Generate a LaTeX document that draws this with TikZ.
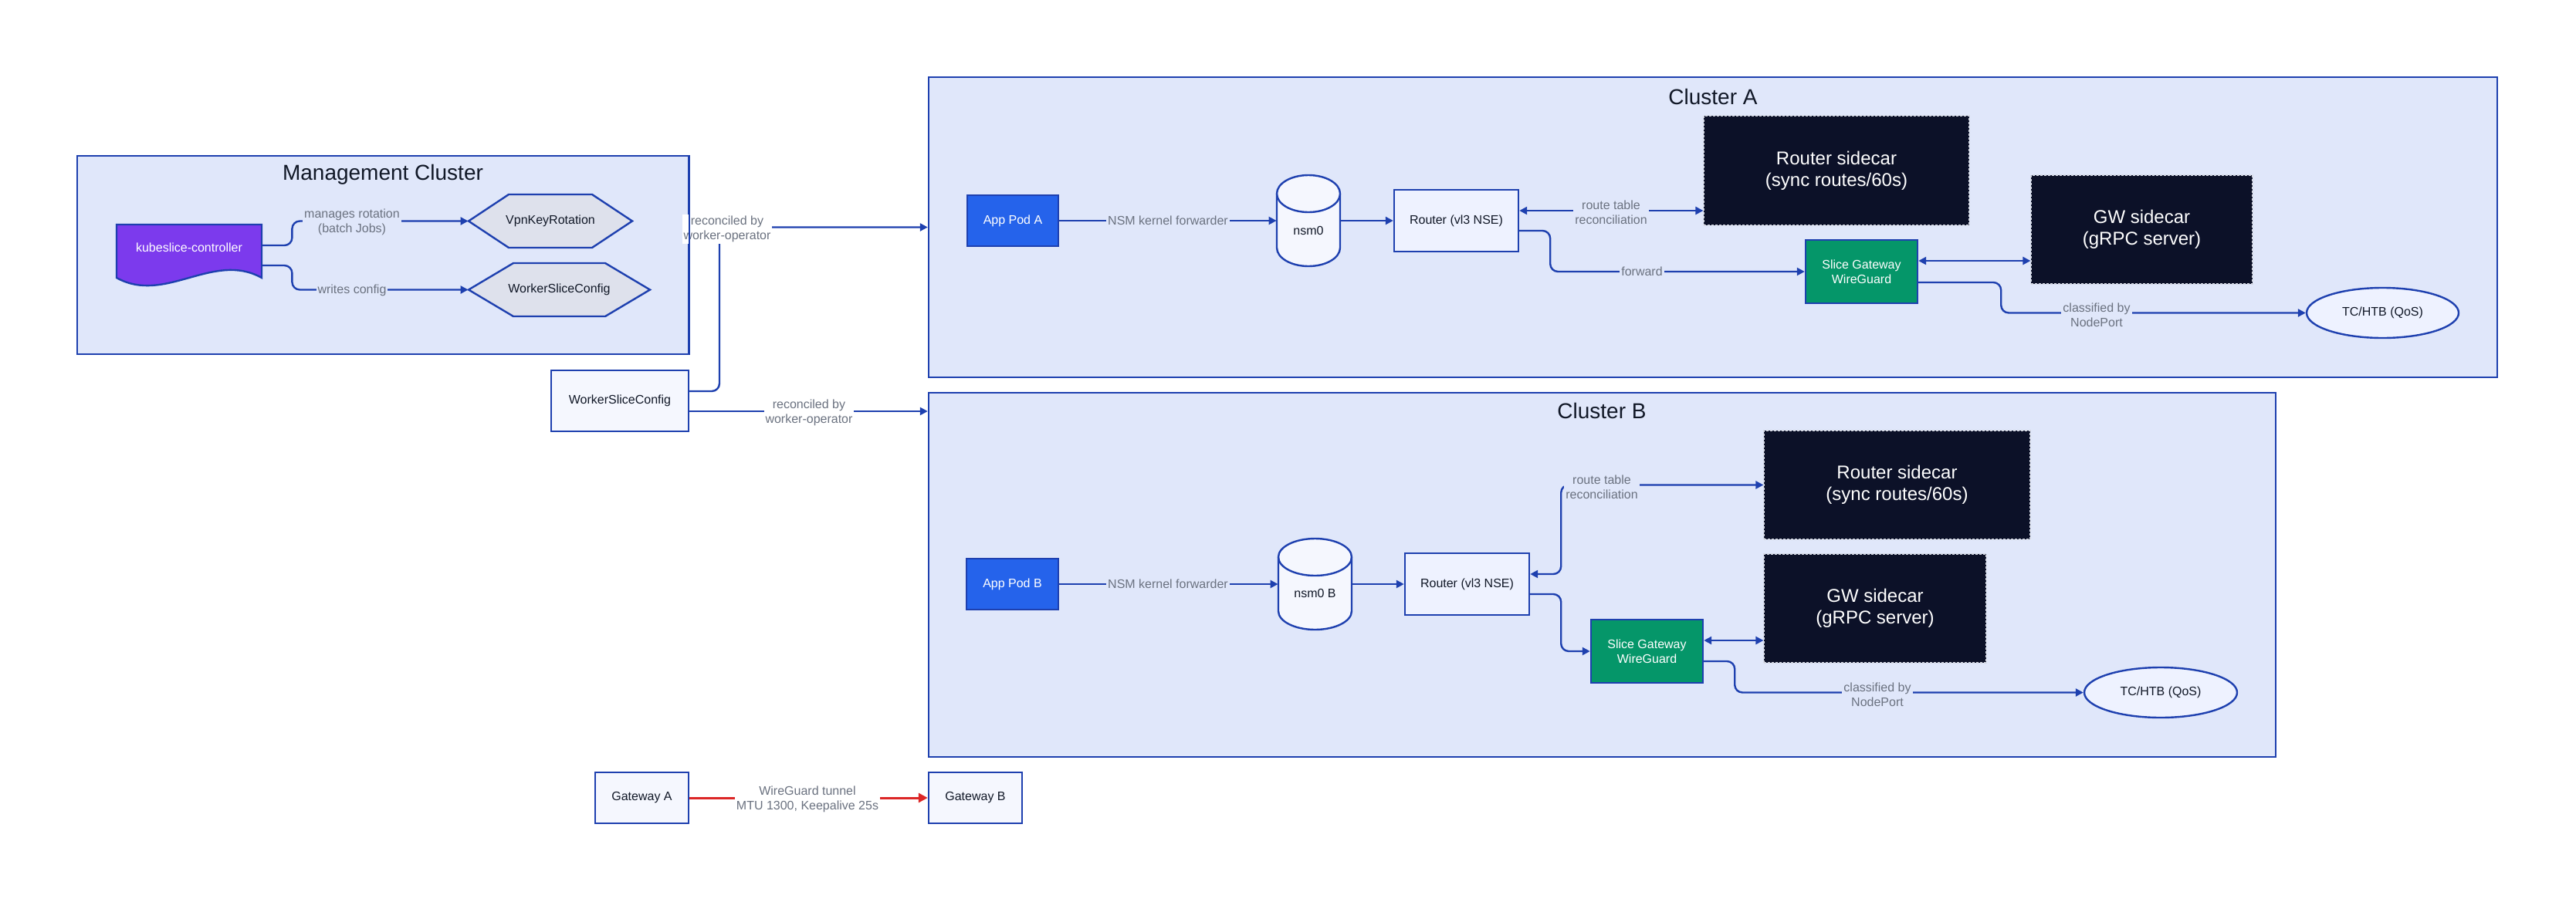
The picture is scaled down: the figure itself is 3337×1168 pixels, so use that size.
\documentclass[tikz,border=0pt]{standalone}
\usepackage{fontspec}
\setmainfont{Liberation Sans}
\usetikzlibrary{arrows.meta,shapes.geometric}
\definecolor{bord}{HTML}{1E40AF}
\definecolor{clfill}{HTML}{E0E7FA}
\definecolor{lightbox}{HTML}{EEF2FF}
\definecolor{paleb}{HTML}{F5F7FE}
\definecolor{hexfill}{HTML}{DEE1EC}
\definecolor{darkcar}{HTML}{0C1128}
\definecolor{podblue}{HTML}{2563EB}
\definecolor{purp}{HTML}{7C3AED}
\definecolor{gwgreen}{HTML}{059669}
\definecolor{lblgrey}{HTML}{6B7280}
\definecolor{txt}{HTML}{111827}
\definecolor{tunnel}{HTML}{DC2626}
\definecolor{dashc}{HTML}{D5D9E4}
\begin{document}
\begin{tikzpicture}[x=0.5pt,y=-0.5pt,
  cluster/.style={draw=bord,fill=clfill,line width=1.2pt,inner sep=0pt},
  ctitle/.style={font=\fontsize{14}{16}\selectfont,text=txt,inner sep=0pt},
  lightnode/.style={draw=bord,fill=lightbox,line width=1.2pt,font=\fontsize{8}{9.5}\selectfont,text=txt,align=center,inner sep=0pt},
  palenode/.style={lightnode,fill=paleb},
  podnode/.style={draw=bord,fill=podblue,line width=1.2pt,font=\fontsize{8}{9.5}\selectfont,text=white,inner sep=0pt},
  sgwnode/.style={draw=bord,fill=gwgreen,line width=1.2pt,font=\fontsize{8}{9.5}\selectfont,text=white,align=center,inner sep=0pt},
  sidecar/.style={draw=dashc,dash pattern=on 1.5pt off 1pt,line width=0.6pt,fill=darkcar,text=white,font=\fontsize{12}{14}\selectfont,align=center,inner sep=0pt},
  textonly/.style={inner sep=0pt,font=\fontsize{8}{9.5}\selectfont,text=txt,align=center},
  shapeline/.style={draw=bord,line width=1.2pt},
  edge/.style={draw=bord,line width=1.2pt,rounded corners=5pt,-{Triangle[length=5pt,width=5pt]}},
  dedge/.style={draw=bord,line width=1.2pt,rounded corners=5pt,{Triangle[length=5pt,width=5pt]}-{Triangle[length=5pt,width=5pt]}},
  elabel/.style={font=\fontsize{8}{9.5}\selectfont,text=lblgrey,align=center,inner sep=1pt,fill=clfill},
]
\useasboundingbox (0,0) rectangle (3337,1168);
\fill[white] (0,0) rectangle (3337,1168);

% clusters
\node[cluster, minimum width=396pt, minimum height=128.5pt] (mgmt) at (496,330.5) {};
\node[cluster, minimum width=1016pt, minimum height=194.5pt] (clA) at (2219,294.5) {};
\node[cluster, minimum width=872.5pt, minimum height=236pt] (clB) at (2075.5,745) {};
\node[ctitle] (tmgmt) at (496,226) {Management Cluster};
\node[ctitle] (tclA) at (2219,125) {Cluster A};
\node[ctitle] (tclB) at (2075,532) {Cluster B};

% management cluster content
\draw[shapeline, fill=purp] (151,291) -- (339,291) -- (339,360) .. controls (276,325) and (214,395) .. (151,360) -- cycle;
\node[textonly, text=white, minimum width=94pt, minimum height=30pt] (kube) at (245,321) {kubeslice-controller};
\draw[shapeline, fill=hexfill] (607,286.5) -- (659,252) -- (767,252) -- (819,286.5) -- (767,321) -- (659,321) -- cycle;
\node[textonly, minimum width=106pt, minimum height=34.5pt] (vkr) at (713,286.5) {VpnKeyRotation};
\draw[shapeline, fill=hexfill] (607,375.5) -- (665,341) -- (784,341) -- (842,375.5) -- (784,410) -- (665,410) -- cycle;
\node[textonly, minimum width=117.5pt, minimum height=34.5pt] (wsch) at (724.5,375.5) {WorkerSliceConfig};

\node[palenode, minimum width=89pt, minimum height=39.5pt] (wsc) at (803,519.5) {WorkerSliceConfig};

% cluster A
\node[podnode, minimum width=59pt, minimum height=33pt] (appA) at (1312,286) {App Pod A};
\draw[shapeline, fill=paleb] (1654,251) -- (1654,321) .. controls (1654,334.3) and (1672.4,345) .. (1695,345) .. controls (1717.6,345) and (1736,334.3) .. (1736,321) -- (1736,251) .. controls (1736,237.7) and (1717.6,227) .. (1695,227) .. controls (1672.4,227) and (1654,237.7) .. (1654,251) -- cycle;
\draw[shapeline] (1654,251) .. controls (1654,264.3) and (1672.4,275) .. (1695,275) .. controls (1717.6,275) and (1736,264.3) .. (1736,251);
\node[textonly, minimum width=41pt, minimum height=59pt] (nsmA) at (1695,286) {};
\node[textonly] (nsmAt) at (1695,299) {nsm0};
\node[lightnode, minimum width=80.5pt, minimum height=40pt] (routerA) at (1886.5,286) {Router (vl3 NSE)};
\node[sidecar, minimum width=172pt, minimum height=71pt] (rsA) at (2379,221) {Router sidecar\\(sync routes/60s)};
\node[sidecar, minimum width=143.5pt, minimum height=70.5pt] (gwA) at (2774.5,297.5) {GW sidecar\\(gRPC server)};
\node[sgwnode, minimum width=72.5pt, minimum height=41pt] (sgwA) at (2411.5,352) {Slice Gateway\\WireGuard};
\node[lightnode, ellipse, minimum width=98.5pt, minimum height=32.5pt] (tcA) at (3086.5,405.5) {TC/HTB (QoS)};

% cluster B
\node[podnode, minimum width=59.5pt, minimum height=33pt] (appB) at (1311.5,757) {App Pod B};
\draw[shapeline, fill=paleb] (1656,722) -- (1656,792) .. controls (1656,805.3) and (1677.3,816) .. (1703.5,816) .. controls (1729.7,816) and (1751,805.3) .. (1751,792) -- (1751,722) .. controls (1751,708.7) and (1729.7,698) .. (1703.5,698) .. controls (1677.3,698) and (1656,708.7) .. (1656,722) -- cycle;
\draw[shapeline] (1656,722) .. controls (1656,735.3) and (1677.3,746) .. (1703.5,746) .. controls (1729.7,746) and (1751,735.3) .. (1751,722);
\node[textonly, minimum width=47.5pt, minimum height=59pt] (nsmB) at (1703.5,757) {};
\node[textonly] (nsmBt) at (1703.5,769) {nsm0 B};
\node[lightnode, minimum width=80.5pt, minimum height=40pt] (routerB) at (1900.5,757) {Router (vl3 NSE)};
\node[sidecar, minimum width=172.5pt, minimum height=70.5pt] (rsB) at (2457.5,628.5) {Router sidecar\\(sync routes/60s)};
\node[sidecar, minimum width=144pt, minimum height=70.5pt] (gwB) at (2429,788.5) {GW sidecar\\(gRPC server)};
\node[sgwnode, minimum width=72.5pt, minimum height=41pt] (sgwB) at (2133.5,844) {Slice Gateway\\WireGuard};
\node[lightnode, ellipse, minimum width=99pt, minimum height=32.5pt] (tcB) at (2799,897.5) {TC/HTB (QoS)};

% gateways
\node[palenode, minimum width=60.5pt, minimum height=33pt] (gwyA) at (831.5,1034) {Gateway A};
\node[palenode, minimum width=60.5pt, minimum height=33pt] (gwyB) at (1263.5,1034) {Gateway B};

% connectors
\draw[edge] ([yshift=1.5pt]kube.east) -- ++(39,0) |- (vkr.west);
\draw[edge] ([yshift=-11.5pt]kube.east) -- ++(39,0) |- (wsch.west);
\draw[edge] ([yshift=6.25pt]wsc.east) -| (932,294.5) -- (clA.west);
\coordinate (w2) at ([yshift=-6.75pt]wsc.east);
\draw[edge] (w2) -- (w2 -| clB.west);

\draw[edge] (appA.east) -- (nsmA.west);
\draw[edge] (nsmA.east) -- (routerA.west);
\coordinate (rA1) at ([yshift=6.5pt]routerA.east);
\draw[dedge] (rA1) -- (rA1 -| rsA.west);
\draw[edge] ([yshift=-6.5pt]routerA.east) -- ++(40,0) |- (sgwA.west);
\coordinate (sA1) at ([yshift=7pt]sgwA.east);
\draw[dedge] (sA1) -- (sA1 -| gwA.west);
\draw[edge] ([yshift=-7pt]sgwA.east) -- ++(107,0) |- (tcA.west);

\draw[edge] (appB.east) -- (nsmB.west);
\draw[edge] (nsmB.east) -- (routerB.west);
\draw[dedge] ([yshift=6.5pt]routerB.east) -- ++(40,0) |- (rsB.west);
\draw[edge] ([yshift=-6.5pt]routerB.east) -- ++(40,0) |- (sgwB.west);
\coordinate (sB1) at ([yshift=7pt]sgwB.east);
\draw[dedge] (sB1) -- (sB1 -| gwB.west);
\draw[edge] ([yshift=-6.5pt]sgwB.east) -- ++(40,0) |- (tcB.west);

\draw[draw=tunnel, line width=1.5pt, -{Triangle[length=6pt,width=6pt]}] (gwyA.east) -- (gwyB.west);

% edge labels
\node[elabel] (l1) at (456,288) {manages rotation\\(batch Jobs)};
\node[elabel] (l2) at (456,376) {writes config};
\node[elabel, fill=white] (l3) at (942,297) {reconciled by\\worker-operator};
\node[elabel, fill=white] (l4) at (1048,535) {reconciled by\\worker-operator};
\node[elabel] (l5) at (1513,286) {NSM kernel forwarder};
\node[elabel] (l6) at (2087,275) {route table\\reconciliation};
\node[elabel] (l7) at (2127,352) {forward};
\node[elabel] (l8) at (2716,408) {classified by\\NodePort};
\node[elabel] (l9) at (1513,757) {NSM kernel forwarder};
\node[elabel] (l10) at (2075,631) {route table\\reconciliation};
\node[elabel] (l11) at (2432,900) {classified by\\NodePort};
\node[elabel, fill=white] (l12) at (1046,1036) {WireGuard tunnel\\MTU 1300, Keepalive 25s};
\draw[shapeline] (mgmt.north east) -- (mgmt.south east);
\end{tikzpicture}
\end{document}
